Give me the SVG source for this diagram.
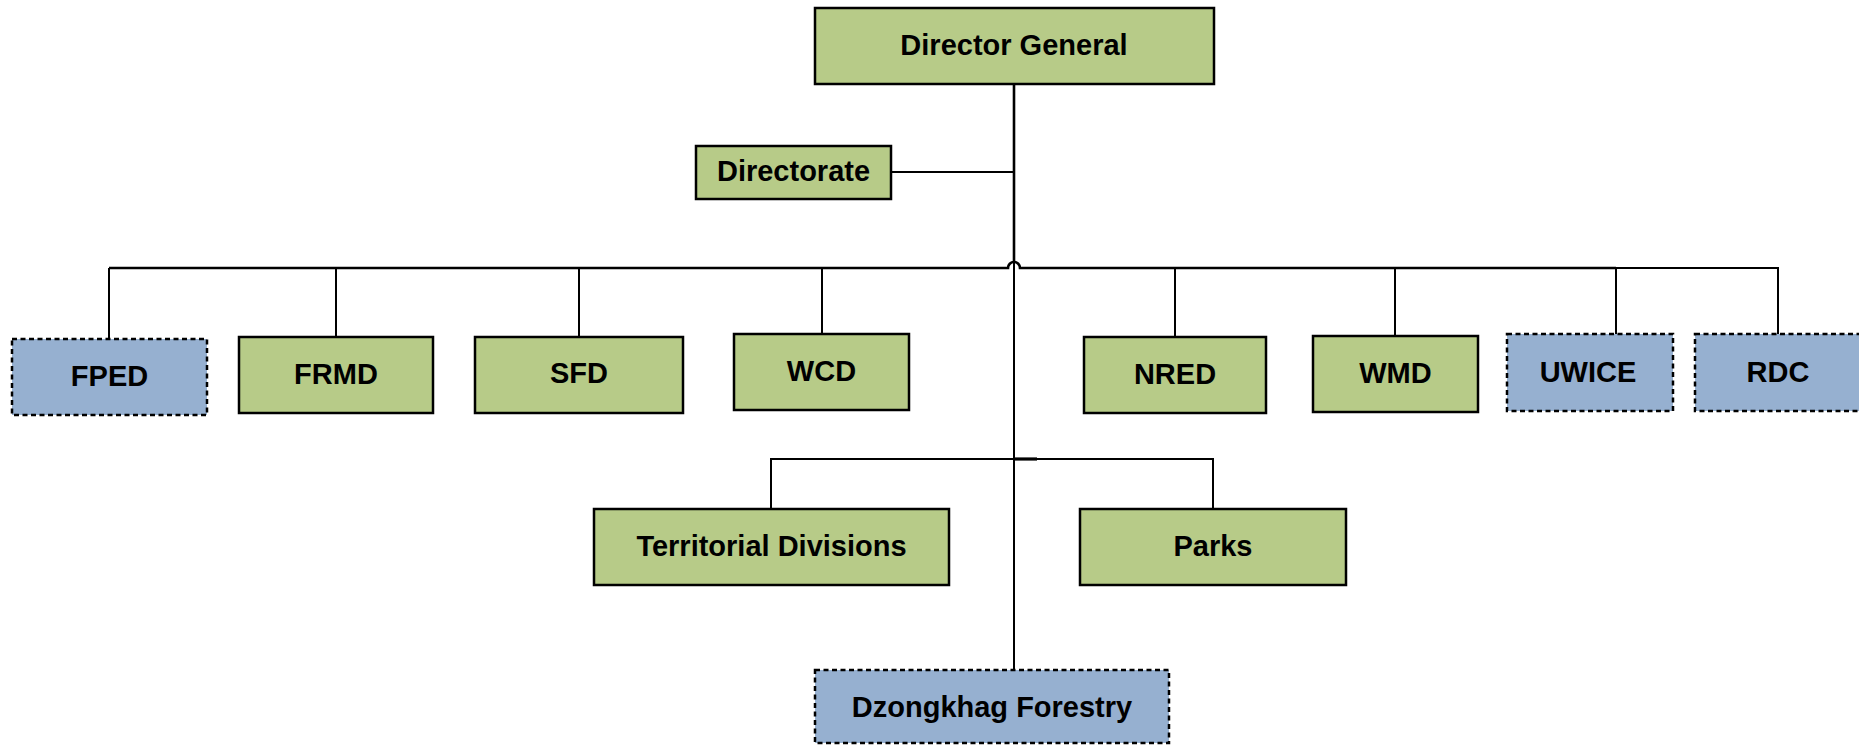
<svg xmlns="http://www.w3.org/2000/svg" width="1859" height="745" viewBox="0 0 1859 745">
<style>
.g{fill:#B7CB88;stroke:#000;stroke-width:2.5}
.b{fill:#96B0D0;stroke:#000;stroke-width:2.5;stroke-dasharray:5 3.5}
.t{font-family:"Liberation Sans",Arial,sans-serif;font-weight:bold;font-size:29px;fill:#000;text-anchor:middle}
.c{fill:none;stroke:#000;stroke-width:2}
.ct{fill:none;stroke:#000;stroke-width:2.6}
</style>
<rect width="1859" height="745" fill="#fff"/>
<g id="connectors">
<path class="ct" d="M1014 84 V263"/>
<path class="c" d="M1014 263 V670"/>
<path class="c" d="M891 172 H1014"/>
<path class="ct" d="M109 268 H1008 A6 6 0 0 1 1020 268 H1616"/>
<path class="c" d="M1616 268 H1778 V334"/>
<path class="c" d="M109 268 V339"/>
<path class="c" d="M336 268 V337"/>
<path class="c" d="M579 268 V337"/>
<path class="c" d="M822 268 V334"/>
<path class="c" d="M1175 268 V337"/>
<path class="c" d="M1395 268 V336"/>
<path class="c" d="M1616 268 V334"/>
<path class="c" d="M771 509 V459 H1213 V509"/>
<path class="ct" d="M1014 459 H1037" style="stroke-width:3.2"/>
</g>
<g id="director-general"><rect class="g" x="815" y="8" width="399" height="76"/><text class="t" x="1014" y="55">Director General</text></g>
<g id="directorate"><rect class="g" x="696" y="146" width="195" height="53"/><text class="t" x="793.5" y="181">Directorate</text></g>
<g id="fped"><rect class="b" x="12" y="339" width="195" height="76"/><text class="t" x="109.5" y="386">FPED</text></g>
<g id="frmd"><rect class="g" x="239" y="337" width="194" height="76"/><text class="t" x="336" y="384">FRMD</text></g>
<g id="sfd"><rect class="g" x="475" y="337" width="208" height="76"/><text class="t" x="579" y="383">SFD</text></g>
<g id="wcd"><rect class="g" x="734" y="334" width="175" height="76"/><text class="t" x="821.5" y="381">WCD</text></g>
<g id="nred"><rect class="g" x="1084" y="337" width="182" height="76"/><text class="t" x="1175" y="384">NRED</text></g>
<g id="wmd"><rect class="g" x="1313" y="336" width="165" height="76"/><text class="t" x="1395.5" y="383">WMD</text></g>
<g id="uwice"><rect class="b" x="1507" y="334" width="166" height="77"/><text class="t" x="1588" y="382">UWICE</text></g>
<g id="rdc"><rect class="b" x="1695" y="334" width="166" height="77"/><text class="t" x="1778" y="382">RDC</text></g>
<g id="territorial-divisions"><rect class="g" x="594" y="509" width="355" height="76"/><text class="t" x="771.5" y="556">Territorial Divisions</text></g>
<g id="parks"><rect class="g" x="1080" y="509" width="266" height="76"/><text class="t" x="1213" y="556">Parks</text></g>
<g id="dzongkhag-forestry"><rect class="b" x="815" y="670" width="354" height="73"/><text class="t" x="992" y="717">Dzongkhag Forestry</text></g>
</svg>
